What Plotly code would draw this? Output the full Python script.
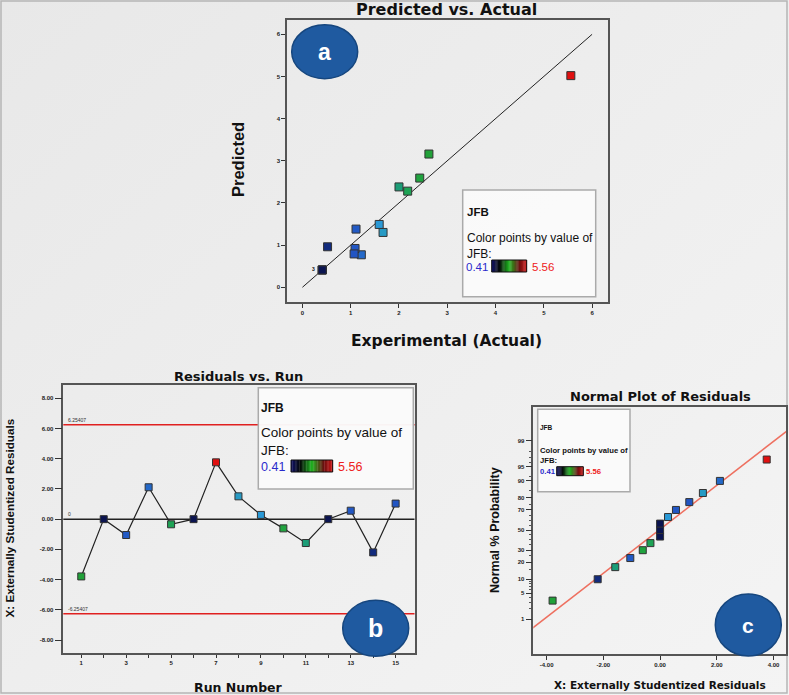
import base64
from statistics import NormalDist
import plotly.graph_objects as go

W, H = 789, 695

# ---------------- data ----------------
runs = list(range(1, 16))
jfb_actual = [2.62, 0.41, 1.11, 1.22, 2.18, 0.41, 5.56, 1.67, 1.59, 2.43, 2.00, 0.41, 1.09, 0.52, 1.07]
jfb_predicted = [3.16, 0.41, 1.38, 0.77, 2.28, 0.41, 5.02, 1.30, 1.49, 2.59, 2.38, 0.41, 0.92, 0.96, 0.79]
residuals = [-3.79, 0.00, -1.05, 2.11, -0.34, 0.00, 3.76, 1.51, 0.28, -0.61, -1.58, 0.00, 0.56, -2.20, 1.03]

# normal probability plot (sorted residuals, probability %, JFB for colour)
np_resid = [-3.79, -2.20, -1.58, -1.05, -0.61, -0.34, 0.00, 0.00, 0.00, 0.28, 0.56, 1.03, 1.51, 2.11, 3.76]
np_prob = [3.3, 10.0, 16.7, 23.3, 30.0, 36.7, 43.3, 50.0, 56.7, 63.3, 70.0, 76.7, 83.3, 90.0, 96.7]
np_jfb = [2.62, 0.52, 2.00, 1.11, 2.43, 2.18, 0.41, 0.41, 0.41, 1.59, 1.09, 1.07, 1.67, 1.22, 5.56]

limit = 6.25407
ideal_line = [0, 6]
fit_x = [-4.6, 4.6]
fit_sigma = 1.745
fit_offset = 0.02

prob_ticks = [1, 5, 10, 20, 30, 50, 70, 80, 90, 95, 99]
prob_minor = [2, 3, 4, 6, 7, 8, 9, 15, 25, 35, 40, 45, 55, 60, 65, 75, 85, 92, 96, 97, 98]
resid_ticks = [-8, -6, -4, -2, 0, 2, 4, 6, 8]
c_xticks = [-4, -2, 0, 2, 4]

# --------------- helpers ---------------
def px(x):
    return x / W

def py(y):
    return 1 - y / H

nd = NormalDist()
def z(p):
    return nd.inv_cdf(p / 100.0)

cscale = [[0, '#0b1450'], [0.03, '#15358f'], [0.13, '#2256c4'], [0.23, '#2a9ad6'],
          [0.30, '#1c9c80'], [0.36, '#1fa545'], [0.45, '#22a035'], [0.75, '#6a5a20'], [1, '#e01010']]
cmin, cmax = 0.41, 5.56

marker_common = dict(symbol='square', colorscale=cscale, cmin=cmin, cmax=cmax,
                     line=dict(color='#333333', width=1))

fig = go.Figure()

# ---- panel a ----
fig.add_trace(go.Scatter(x=ideal_line, y=ideal_line, mode='lines',
                         line=dict(color='#222222', width=1), xaxis='x', yaxis='y', hoverinfo='skip'))
fig.add_trace(go.Scatter(x=jfb_actual, y=jfb_predicted, mode='markers',
                         marker=dict(color=jfb_actual, size=8, **marker_common), xaxis='x', yaxis='y'))

# ---- panel b ----
fig.add_trace(go.Scatter(x=runs, y=residuals, mode='lines+markers',
                         line=dict(color='#222222', width=1.2),
                         marker=dict(color=jfb_actual, size=7, **marker_common), xaxis='x2', yaxis='y2'))

# ---- panel c ----
fig.add_trace(go.Scatter(x=fit_x, y=[v / fit_sigma + fit_offset for v in fit_x], mode='lines',
                         line=dict(color='#ee7060', width=1.5), xaxis='x3', yaxis='y3', hoverinfo='skip'))
fig.add_trace(go.Scatter(x=np_resid, y=[z(p) for p in np_prob], mode='markers',
                         marker=dict(color=np_jfb, size=7, **marker_common), xaxis='x3', yaxis='y3'))

frame = dict(showline=True, mirror=True, linecolor='#555555', linewidth=1.5,
             showgrid=False, zeroline=False, ticks='outside', tickcolor='#333333',
             tickfont=dict(size=6, color='#222222', family='Liberation Sans', weight='bold'))

shapes = []
ann = []
SANS = 'Liberation Sans'
WIDE = 'DejaVu Sans'

def text(x, y, s, size, color='#111111', bold=False, xanchor='center', yanchor='middle', angle=0, family=SANS):
    ann.append(dict(x=px(x), y=py(y), xref='paper', yref='paper', text=s, showarrow=False,
                    xanchor=xanchor, yanchor=yanchor, textangle=angle, borderpad=0,
                    align='left' if xanchor == 'left' else 'center',
                    font=dict(size=size, color=color, family=family, weight='bold' if bold else 'normal')))

def rect(x0, y0, x1, y1, fill, line='#999999', lw=1.5):
    shapes.append(dict(type='rect', xref='paper', yref='paper', x0=px(x0), x1=px(x1), y0=py(y1), y1=py(y0),
                       fillcolor=fill, line=dict(color=line, width=lw), layer='above'))

def ellipse(cx, cy, rx, ry, label, fs):
    shapes.append(dict(type='circle', xref='paper', yref='paper', x0=px(cx - rx), x1=px(cx + rx),
                       y0=py(cy + ry), y1=py(cy - ry), fillcolor='#1f5aa0',
                       line=dict(color='#16467e', width=1.5), layer='above'))
    text(cx, cy, label, fs, color='white', bold=True)

def hex2rgb(h):
    return tuple(int(h[i:i + 2], 16) for i in (1, 3, 5))

grad_stops = [(0, '#12126a'), (0.22, '#050a08'), (0.5, '#1fb520'), (0.78, '#6a1010'), (1, '#cc1515')]

def gradcolor(t):
    for (t0, c0), (t1, c1) in zip(grad_stops[:-1], grad_stops[1:]):
        if t0 <= t <= t1:
            f = (t - t0) / (t1 - t0)
            a, b = hex2rgb(c0), hex2rgb(c1)
            return 'rgb(%d,%d,%d)' % tuple(round(a[i] + (b[i] - a[i]) * f) for i in range(3))
    return grad_stops[-1][1]

def gradbar(x0, y0, x1, y1, n=30):
    for i in range(n):
        xa = x0 + (x1 - x0) * i / n
        xb = x0 + (x1 - x0) * (i + 1) / n + 0.3
        shapes.append(dict(type='rect', xref='paper', yref='paper', x0=px(xa), x1=px(xb),
                           y0=py(y1), y1=py(y0), fillcolor=gradcolor((i + 0.5) / n),
                           line=dict(width=0), layer='above'))
    shapes.append(dict(type='rect', xref='paper', yref='paper', x0=px(x0), x1=px(x1),
                       y0=py(y1), y1=py(y0), line=dict(color='#111111', width=1), layer='above'))

# outer border
shapes.append(dict(type='rect', xref='paper', yref='paper', x0=px(1), x1=px(787), y0=py(693), y1=py(1),
                   line=dict(color='#b5b5b5', width=1.5), layer='below'))

# ---- panel a decorations ----
rect(462.7, 190, 595.7, 296.7, 'rgba(250,250,250,0.95)', '#aaaaaa', 1.5)
text(466, 212, 'JFB', 11.5, bold=True, xanchor='left')
text(466, 246, 'Color points by value of<br>JFB:', 12, xanchor='left')
text(464.5, 267, '0.41', 11.5, color='#2a2acc', xanchor='left')
gradbar(491.7, 260, 526.7, 272)
text(530.5, 267, '5.56', 11.5, color='#ee2020', xanchor='left')
text(313.5, 269, '3', 5, bold=True)
ellipse(324.7, 51.7, 33, 27, 'a', 23)
text(446.7, 9.5, 'Predicted vs. Actual', 16, bold=True, family=WIDE)
text(238, 160, 'Predicted', 16.5, bold=True, angle=-90)
text(446.7, 340.5, 'Experimental (Actual)', 15.5, bold=True, family=WIDE)

# ---- panel b decorations ----
shapes.append(dict(type='line', xref='x2 domain', yref='y2', x0=0, x1=1, y0=limit, y1=limit,
                   line=dict(color='#e02020', width=1.5)))
shapes.append(dict(type='line', xref='x2 domain', yref='y2', x0=0, x1=1, y0=-limit, y1=-limit,
                   line=dict(color='#e02020', width=1.5)))
shapes.append(dict(type='line', xref='x2 domain', yref='y2', x0=0, x1=1, y0=0, y1=0,
                   line=dict(color='#222222', width=1.5), layer='below'))
for val, lab in ((limit, '6.25407'), (-limit, '-6.25407'), (0, '0')):
    ann.append(dict(x=0.32, y=val, xref='x2', yref='y2', text=lab, showarrow=False, xanchor='left',
                    yanchor='bottom', font=dict(size=5, color='#333333', family=SANS)))
rect(258.3, 387.7, 413.3, 489, 'rgba(250,250,250,0.97)', '#aaaaaa', 1.5)
text(260, 408, 'JFB', 12, bold=True, xanchor='left')
text(260, 441, 'Color points by value of<br>JFB:', 13.5, xanchor='left')
text(259.5, 467, '0.41', 12.5, color='#2a2acc', xanchor='left')
gradbar(291, 460, 332.7, 472)
text(336.5, 467, '5.56', 12.5, color='#ee2020', xanchor='left')
ellipse(375.7, 628.3, 33, 28, 'b', 25)
text(238, 376.5, 'Residuals vs. Run', 13, bold=True, family=WIDE)
text(8.5, 518, 'X: Externally Studentized Residuals', 11.7, bold=True, angle=-90)
text(238, 687, 'Run Number', 12.5, bold=True, family=WIDE)

# ---- panel c decorations ----
rect(537.7, 409.3, 630, 491.7, 'rgba(250,250,250,0.95)', '#aaaaaa', 1.5)
text(539, 427.3, 'JFB', 6.5, bold=True, xanchor='left')
text(539, 455, 'Color points by value of<br>JFB:', 7.7, bold=True, xanchor='left')
text(538.5, 471, '0.41', 7.7, color='#2a2acc', bold=True, xanchor='left')
gradbar(556.7, 466.7, 583.3, 475.7)
text(584.7, 471, '5.56', 7.7, color='#ee2020', bold=True, xanchor='left')
ellipse(748.3, 625, 33, 31, 'c', 21)
text(660, 396, 'Normal Plot of Residuals', 13, bold=True, family=WIDE)
text(495, 530, 'Normal % Probability', 12.5, bold=True, angle=-90)
text(660, 685, 'X: Externally Studentized Residuals', 10.5, bold=True, family=WIDE)

# background gradient image
svg = ('<svg xmlns="http://www.w3.org/2000/svg" width="789" height="695">'
       '<defs><linearGradient id="g" x1="0" y1="0" x2="1" y2="1">'
       '<stop offset="0" stop-color="#e8e8e8"/><stop offset="1" stop-color="#f4f4f4"/>'
       '</linearGradient></defs><rect width="789" height="695" fill="url(#g)"/></svg>')
img = 'data:image/svg+xml;base64,' + base64.b64encode(svg.encode()).decode()

fig.update_layout(
    width=W, height=H, autosize=False,
    margin=dict(l=0, r=0, t=0, b=0),
    paper_bgcolor='#eeeeee', plot_bgcolor='rgba(0,0,0,0)',
    showlegend=False,
    images=[dict(source=img, xref='paper', yref='paper', x=0, y=1, sizex=1, sizey=1,
                 sizing='stretch', layer='below', xanchor='left', yanchor='top')],
    xaxis=dict(domain=[px(287), px(608)], range=[-0.32, 6.33], anchor='y',
               tickvals=[0, 1, 2, 3, 4, 5, 6], ticklen=4, **frame),
    yaxis=dict(domain=[py(302), py(20)], range=[-0.35, 6.34], anchor='x',
               tickvals=[0, 1, 2, 3, 4, 5, 6], ticklen=4, **frame),
    xaxis2=dict(domain=[px(63.3), px(414.5)], range=[0.2, 15.84], anchor='y2',
                tickvals=runs, ticktext=[str(r) if r % 2 else '' for r in runs], ticklen=3, **frame),
    yaxis2=dict(domain=[py(653.3), py(385)], range=[-8.88, 8.88], anchor='x2',
                tickvals=resid_ticks, ticktext=['%.2f' % v for v in resid_ticks], ticklen=7, **frame),
    xaxis3=dict(domain=[px(533.3), px(786)], range=[-4.47, 4.44], anchor='y3',
                tickvals=c_xticks, ticktext=['%.2f' % v for v in c_xticks], ticklen=4, **frame),
    yaxis3=dict(domain=[py(654), py(407.3)], range=[-3.23, 3.2], anchor='x3',
                tickvals=[z(p) for p in prob_ticks], ticktext=[str(p) for p in prob_ticks], ticklen=6,
                minor=dict(tickmode='array', tickvals=[z(p) for p in prob_minor], ticklen=3,
                           tickcolor='#555555'), **frame),
    shapes=shapes, annotations=ann,
)

fig.write_html('out.html', config={'displayModeBar': False},
               post_script="document.body.style.margin='0px';document.body.style.overflow='hidden';")
